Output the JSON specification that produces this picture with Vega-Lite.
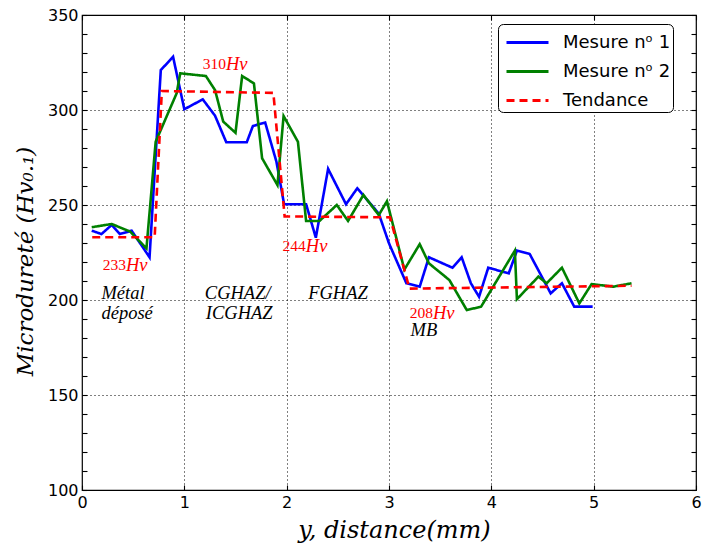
{
  "$schema": "https://vega.github.io/schema/vega-lite/v6.json",
  "width": 614,
  "height": 475,
  "autosize": {"type": "none"},
  "padding": {"left": 82, "top": 15, "right": 7, "bottom": 56},
  "background": "white",
  "config": {
    "view": {"stroke": "black", "strokeWidth": 1.2},
    "axis": {
      "domain": false,
      "labelFont": "DejaVu Sans",
      "labelFontSize": 16,
      "labelColor": "black",
      "labelFlush": false,
      "labelOverlap": false,
      "tickColor": "black",
      "tickWidth": 1.1,
      "gridColor": "black",
      "gridDash": [1, 3],
      "gridWidth": 1,
      "titleFont": "DejaVu Serif",
      "titleFontStyle": "italic",
      "titleFontWeight": "normal",
      "titleColor": "black"
    }
  },
  "datasets": {
    "mesures": [
      {"serie": "Mesure nᵒ 1", "distance": 0.095, "durete": 236.5},
      {"serie": "Mesure nᵒ 1", "distance": 0.19, "durete": 234.7},
      {"serie": "Mesure nᵒ 1", "distance": 0.29, "durete": 239.5},
      {"serie": "Mesure nᵒ 1", "distance": 0.37, "durete": 234.7},
      {"serie": "Mesure nᵒ 1", "distance": 0.485, "durete": 236.5},
      {"serie": "Mesure nᵒ 1", "distance": 0.66, "durete": 222.5},
      {"serie": "Mesure nᵒ 1", "distance": 0.77, "durete": 321},
      {"serie": "Mesure nᵒ 1", "distance": 0.89, "durete": 328},
      {"serie": "Mesure nᵒ 1", "distance": 1.0, "durete": 300.4},
      {"serie": "Mesure nᵒ 1", "distance": 1.18, "durete": 305.6},
      {"serie": "Mesure nᵒ 1", "distance": 1.3, "durete": 297},
      {"serie": "Mesure nᵒ 1", "distance": 1.41, "durete": 283},
      {"serie": "Mesure nᵒ 1", "distance": 1.61, "durete": 283},
      {"serie": "Mesure nᵒ 1", "distance": 1.67, "durete": 291.6},
      {"serie": "Mesure nᵒ 1", "distance": 1.79, "durete": 293.4},
      {"serie": "Mesure nᵒ 1", "distance": 1.9, "durete": 272.8},
      {"serie": "Mesure nᵒ 1", "distance": 1.975, "durete": 250.4},
      {"serie": "Mesure nᵒ 1", "distance": 2.19, "durete": 250.4},
      {"serie": "Mesure nᵒ 1", "distance": 2.285, "durete": 232.8},
      {"serie": "Mesure nᵒ 1", "distance": 2.405, "durete": 269},
      {"serie": "Mesure nᵒ 1", "distance": 2.58, "durete": 250.4},
      {"serie": "Mesure nᵒ 1", "distance": 2.69, "durete": 258.8},
      {"serie": "Mesure nᵒ 1", "distance": 2.9, "durete": 245.5},
      {"serie": "Mesure nᵒ 1", "distance": 3.0, "durete": 229.8},
      {"serie": "Mesure nᵒ 1", "distance": 3.17, "durete": 208.8},
      {"serie": "Mesure nᵒ 1", "distance": 3.3, "durete": 207},
      {"serie": "Mesure nᵒ 1", "distance": 3.39, "durete": 222.5},
      {"serie": "Mesure nᵒ 1", "distance": 3.62, "durete": 217},
      {"serie": "Mesure nᵒ 1", "distance": 3.71, "durete": 222.5},
      {"serie": "Mesure nᵒ 1", "distance": 3.8, "durete": 208.8},
      {"serie": "Mesure nᵒ 1", "distance": 3.88, "durete": 201.7},
      {"serie": "Mesure nᵒ 1", "distance": 3.97, "durete": 217},
      {"serie": "Mesure nᵒ 1", "distance": 4.17, "durete": 214},
      {"serie": "Mesure nᵒ 1", "distance": 4.25, "durete": 226},
      {"serie": "Mesure nᵒ 1", "distance": 4.375, "durete": 224.2},
      {"serie": "Mesure nᵒ 1", "distance": 4.58, "durete": 203.5},
      {"serie": "Mesure nᵒ 1", "distance": 4.69, "durete": 208.8},
      {"serie": "Mesure nᵒ 1", "distance": 4.81, "durete": 196.5},
      {"serie": "Mesure nᵒ 1", "distance": 4.99, "durete": 196.5},
      {"serie": "Mesure nᵒ 2", "distance": 0.095, "durete": 238.3},
      {"serie": "Mesure nᵒ 2", "distance": 0.29, "durete": 240},
      {"serie": "Mesure nᵒ 2", "distance": 0.47, "durete": 236},
      {"serie": "Mesure nᵒ 2", "distance": 0.63, "durete": 227.2},
      {"serie": "Mesure nᵒ 2", "distance": 0.72, "durete": 283.3},
      {"serie": "Mesure nᵒ 2", "distance": 0.925, "durete": 308.8},
      {"serie": "Mesure nᵒ 2", "distance": 0.96, "durete": 319.3},
      {"serie": "Mesure nᵒ 2", "distance": 1.21, "durete": 317.9},
      {"serie": "Mesure nᵒ 2", "distance": 1.3, "durete": 310.5},
      {"serie": "Mesure nᵒ 2", "distance": 1.38, "durete": 293.9},
      {"serie": "Mesure nᵒ 2", "distance": 1.5, "durete": 288},
      {"serie": "Mesure nᵒ 2", "distance": 1.565, "durete": 317.9},
      {"serie": "Mesure nᵒ 2", "distance": 1.68, "durete": 314},
      {"serie": "Mesure nᵒ 2", "distance": 1.76, "durete": 274.6},
      {"serie": "Mesure nᵒ 2", "distance": 1.91, "durete": 260.5},
      {"serie": "Mesure nᵒ 2", "distance": 1.97, "durete": 296.8},
      {"serie": "Mesure nᵒ 2", "distance": 2.11, "durete": 283.3},
      {"serie": "Mesure nᵒ 2", "distance": 2.19, "durete": 241.6},
      {"serie": "Mesure nᵒ 2", "distance": 2.32, "durete": 241.6},
      {"serie": "Mesure nᵒ 2", "distance": 2.49, "durete": 250},
      {"serie": "Mesure nᵒ 2", "distance": 2.6, "durete": 241.6},
      {"serie": "Mesure nᵒ 2", "distance": 2.75, "durete": 255.3},
      {"serie": "Mesure nᵒ 2", "distance": 2.9, "durete": 244.7},
      {"serie": "Mesure nᵒ 2", "distance": 2.98, "durete": 252},
      {"serie": "Mesure nᵒ 2", "distance": 3.15, "durete": 216},
      {"serie": "Mesure nᵒ 2", "distance": 3.3, "durete": 229.4},
      {"serie": "Mesure nᵒ 2", "distance": 3.39, "durete": 219.3},
      {"serie": "Mesure nᵒ 2", "distance": 3.59, "durete": 210.5},
      {"serie": "Mesure nᵒ 2", "distance": 3.76, "durete": 194.7},
      {"serie": "Mesure nᵒ 2", "distance": 3.9, "durete": 196.5},
      {"serie": "Mesure nᵒ 2", "distance": 4.23, "durete": 226},
      {"serie": "Mesure nᵒ 2", "distance": 4.25, "durete": 200.4},
      {"serie": "Mesure nᵒ 2", "distance": 4.46, "durete": 212.3},
      {"serie": "Mesure nᵒ 2", "distance": 4.54, "durete": 208.8},
      {"serie": "Mesure nᵒ 2", "distance": 4.69, "durete": 217},
      {"serie": "Mesure nᵒ 2", "distance": 4.86, "durete": 198.2},
      {"serie": "Mesure nᵒ 2", "distance": 4.98, "durete": 208.4},
      {"serie": "Mesure nᵒ 2", "distance": 5.19, "durete": 207},
      {"serie": "Mesure nᵒ 2", "distance": 5.37, "durete": 208.8},
      {"serie": "Tendance", "distance": 0.1, "durete": 233},
      {"serie": "Tendance", "distance": 0.71, "durete": 233},
      {"serie": "Tendance", "distance": 0.78, "durete": 310},
      {"serie": "Tendance", "distance": 1.87, "durete": 309},
      {"serie": "Tendance", "distance": 1.98, "durete": 244},
      {"serie": "Tendance", "distance": 3.01, "durete": 243.5},
      {"serie": "Tendance", "distance": 3.2, "durete": 206},
      {"serie": "Tendance", "distance": 5.37, "durete": 207.5}
    ],
    "valeurs": [
      {"valeur": "233", "unite": "Hv", "distance": 0.43, "durete": 218.4},
      {"valeur": "310", "unite": "Hv", "distance": 1.406, "durete": 324.2},
      {"valeur": "244", "unite": "Hv", "distance": 2.1875, "durete": 228.4},
      {"valeur": "208", "unite": "Hv", "distance": 3.43, "durete": 193.2}
    ],
    "zones": [
      {"texte": "Métal", "distance": 0.19, "durete": 203.7},
      {"texte": "déposé", "distance": 0.19, "durete": 193.2},
      {"texte": "CGHAZ/", "distance": 1.2, "durete": 203.7},
      {"texte": "ICGHAZ", "distance": 1.21, "durete": 193.2},
      {"texte": "FGHAZ", "distance": 2.21, "durete": 203.7},
      {"texte": "MB", "distance": 3.21, "durete": 184.2}
    ]
  },
  "layer": [
    {
      "data": {"name": "mesures"},
      "mark": {"type": "line", "strokeWidth": 2.6, "clip": true},
      "encoding": {
        "x": {
          "field": "distance",
          "type": "quantitative",
          "scale": {"domain": [0, 6], "nice": false, "zero": false},
          "axis": {
            "orient": "bottom",
            "values": [0, 1, 2, 3, 4, 5, 6],
            "tickSize": -5,
            "labelPadding": 9,
            "grid": true,
            "gridOpacity": {"condition": {"test": "datum.value > 0 && datum.value < 6", "value": 1}, "value": 0},
            "title": "y, distance(mm)",
            "titleFontSize": 24,
            "titleX": 312,
            "titleY": 47,
            "titleBaseline": "alphabetic",
            "titleAlign": "center"
          }
        },
        "y": {
          "field": "durete",
          "type": "quantitative",
          "scale": {"domain": [100, 350], "nice": false, "zero": false},
          "axis": {
            "orient": "left",
            "values": [100, 110, 120, 130, 140, 150, 160, 170, 180, 190, 200, 210, 220, 230, 240, 250, 260, 270, 280, 290, 300, 310, 320, 330, 340, 350],
            "labelExpr": "datum.value % 50 === 0 ? datum.label : ''",
            "tickSize": -5,
            "labelPadding": 9,
            "grid": true,
            "gridOpacity": {"condition": {"test": "datum.value % 50 === 0 && datum.value > 100 && datum.value < 350", "value": 1}, "value": 0},
            "title": "Microdureté (Hv₀.₁)",
            "titleFontSize": 23,
            "titleX": -50,
            "titleY": 246,
            "titleAngle": -90,
            "titleBaseline": "alphabetic",
            "titleAlign": "center"
          }
        },
        "color": {
          "field": "serie",
          "type": "nominal",
          "scale": {"domain": ["Mesure nᵒ 1", "Mesure nᵒ 2", "Tendance"], "range": ["#0000ff", "#008000", "#ff0000"]},
          "legend": {
            "orient": "none",
            "legendX": 416,
            "legendY": 9,
            "title": null,
            "strokeColor": "black",
            "cornerRadius": 5,
            "padding": 2,
            "fillColor": "white",
            "labelFont": "DejaVu Sans",
            "labelFontSize": 18,
            "labelColor": "black",
            "labelOffset": 19,
            "labelExpr": "datum.label + '\u00a0\u00a0\u00a0\u00a0\u00a0'",
            "symbolType": "M-1.4,0H1.4",
            "symbolSize": 900,
            "symbolStrokeWidth": 3,
            "symbolOffset": 11,
            "rowPadding": 3
          }
        },
        "strokeDash": {
          "field": "serie",
          "type": "nominal",
          "scale": {"domain": ["Mesure nᵒ 1", "Mesure nᵒ 2", "Tendance"], "range": [[1, 0], [1, 0], [8, 5]]},
          "legend": {
            "orient": "none",
            "legendX": 416,
            "legendY": 9,
            "title": null
          }
        }
      }
    },
    {
      "data": {"name": "valeurs"},
      "layer": [
        {
          "mark": {"type": "text", "align": "right", "baseline": "middle", "font": "Liberation Serif", "fontSize": 15.5, "color": "#ff0000"},
          "encoding": {"text": {"field": "valeur"}}
        },
        {
          "mark": {"type": "text", "align": "left", "baseline": "middle", "font": "Liberation Serif", "fontStyle": "italic", "fontSize": 18.5, "color": "#ff0000"},
          "encoding": {"text": {"field": "unite"}}
        }
      ],
      "encoding": {
        "x": {"field": "distance", "type": "quantitative", "axis": null},
        "y": {"field": "durete", "type": "quantitative", "axis": null}
      }
    },
    {
      "data": {"name": "zones"},
      "mark": {"type": "text", "align": "left", "baseline": "middle", "font": "Liberation Serif", "fontStyle": "italic", "fontSize": 18.5, "color": "black"},
      "encoding": {
        "x": {
          "field": "distance",
          "type": "quantitative",
          "axis": {"orient": "top", "values": [0, 1, 2, 3, 4, 5, 6], "tickSize": -5, "labels": false, "grid": false, "title": null}
        },
        "y": {
          "field": "durete",
          "type": "quantitative",
          "axis": {
            "orient": "right",
            "values": [100, 110, 120, 130, 140, 150, 160, 170, 180, 190, 200, 210, 220, 230, 240, 250, 260, 270, 280, 290, 300, 310, 320, 330, 340, 350],
            "tickSize": -5,
            "labels": false,
            "grid": false,
            "title": null
          }
        },
        "text": {"field": "texte"}
      }
    }
  ],
  "resolve": {"axis": {"x": "independent", "y": "independent"}}
}
